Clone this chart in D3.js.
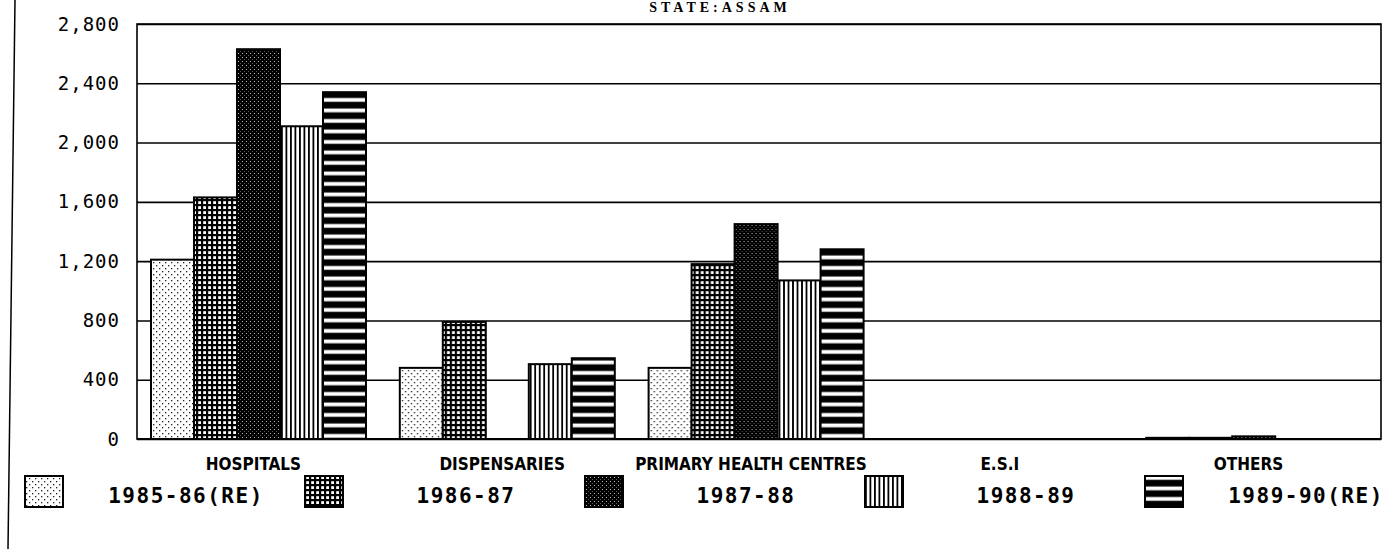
<!DOCTYPE html>
<html>
<head>
<meta charset="utf-8">
<script src="https://cdn.jsdelivr.net/npm/d3@7"></script>
<style>
  html, body { margin: 0; padding: 0; background: #fff; }
  svg { display: block; }
</style>
</head>
<body>
<svg id="chart" width="1387" height="549"></svg>
<script>
// Health expenditure by head, State: Assam
const title = "STATE:ASSAM";
const categories = ["HOSPITALS", "DISPENSARIES", "PRIMARY HEALTH CENTRES", "E.S.I", "OTHERS"];
const seriesNames = ["1985-86(RE)", "1986-87", "1987-88", "1988-89", "1989-90(RE)"];
const v1985 = [1210, 480, 480, 0, 8];
const v1986 = [1630, 790, 1180, 0, 8];
const v1987 = [2630, 0, 1450, 0, 18];
const v1988 = [2110, 505, 1070, 0, 0];
const v1989 = [2340, 545, 1280, 0, 0];
const yTicks = [0, 400, 800, 1200, 1600, 2000, 2400, 2800];

const seriesValues = [v1985, v1986, v1987, v1988, v1989];
const patternIds = ["pat-stipple", "pat-grid", "pat-dark", "pat-vert", "pat-horiz"];

const svg = d3.select("#chart");
const W = 1387, H = 549;
const m = { t: 24, r: 6, b: 110, l: 137 };
const plotW = W - m.l - m.r, plotH = H - m.t - m.b;

// ---- fill patterns (scanned print look) ----
const defs = svg.append("defs");
function pattern(id, w, h) {
  return defs.append("pattern").attr("id", id)
    .attr("patternUnits", "userSpaceOnUse").attr("width", w).attr("height", h);
}
let p = pattern("pat-stipple", 6, 6);
p.append("rect").attr("width", 6).attr("height", 6).attr("fill", "#fff");
p.append("rect").attr("x", 1).attr("y", 1).attr("width", 1.3).attr("height", 1.3).attr("fill", "#222");
p.append("rect").attr("x", 4).attr("y", 4).attr("width", 1.3).attr("height", 1.3).attr("fill", "#222");

p = pattern("pat-grid", 5, 5);
p.append("rect").attr("width", 5).attr("height", 5).attr("fill", "#000");
p.append("rect").attr("x", 1.2).attr("y", 1.2).attr("width", 2.8).attr("height", 2.8).attr("fill", "#fff");

p = pattern("pat-dark", 4, 4);
p.append("rect").attr("width", 4).attr("height", 4).attr("fill", "#000");
p.append("rect").attr("x", 1).attr("y", 1).attr("width", 1).attr("height", 1).attr("fill", "#bbb");
p.append("rect").attr("x", 3).attr("y", 3).attr("width", 0.8).attr("height", 0.8).attr("fill", "#888");

p = pattern("pat-vert", 4.5, 10);
p.append("rect").attr("width", 4.5).attr("height", 10).attr("fill", "#fff");
p.append("rect").attr("width", 1.8).attr("height", 10).attr("fill", "#000");

p = pattern("pat-horiz", 10, 10.5);
p.append("rect").attr("width", 10).attr("height", 10.5).attr("fill", "#000");
p.append("rect").attr("y", 3.5).attr("width", 10).attr("height", 3.8).attr("fill", "#fff");

// ---- scales ----
const x0 = d3.scaleBand().domain(categories).range([m.l, m.l + plotW]);
const x1 = d3.scaleBand().domain(seriesNames).range([14, 229]);
const y = d3.scaleLinear().domain([0, 2800]).range([m.t + plotH, m.t]);

// page edge from the scan
svg.append("line").attr("x1", 15).attr("y1", 0).attr("x2", 8).attr("y2", H)
  .attr("stroke", "#000").attr("stroke-width", 1.5);

// title
svg.append("text")
  .attr("x", 720).attr("y", 12)
  .attr("text-anchor", "middle")
  .style("font-family", "'Liberation Serif', 'DejaVu Serif', serif")
  .style("font-weight", 700).style("font-size", "14px")
  .style("letter-spacing", "4px")
  .text(title);

// ---- y axis + gridlines ----
svg.append("g").attr("transform", `translate(${m.l},0)`)
  .call(d3.axisLeft(y).tickValues(yTicks).tickFormat(d3.format(",")).tickSize(-plotW).tickPadding(17))
  .call(g => g.select(".domain").remove())
  .call(g => g.selectAll("line").attr("stroke", "#000").attr("stroke-width", 1.6))
  .selectAll("text")
  .attr("fill", "#000")
  .style("font-family", "'DejaVu Sans Mono', 'Liberation Mono', monospace")
  .style("font-size", "19px")
  .style("letter-spacing", "1px");

// frame
svg.append("rect")
  .attr("x", m.l).attr("y", m.t).attr("width", plotW).attr("height", plotH)
  .attr("fill", "none").attr("stroke", "#000").attr("stroke-width", 1.6);

// ---- bars ----
const groups = svg.selectAll("g.cat").data(categories).join("g")
  .attr("class", "cat")
  .attr("transform", d => `translate(${x0(d)},0)`);

groups.selectAll("rect").data((c, ci) => seriesNames.map((s, si) => ({
  s, si, v: seriesValues[si][ci]
})).filter(d => d.v > 0)).join("rect")
  .attr("x", d => x1(d.s))
  .attr("y", d => y(d.v))
  .attr("width", x1.bandwidth())
  .attr("height", d => y(0) - y(d.v))
  .attr("fill", d => `url(#${patternIds[d.si]})`)
  .attr("stroke", "#000").attr("stroke-width", 2);

// redraw baseline on top of bars
svg.append("line")
  .attr("x1", m.l).attr("x2", m.l + plotW)
  .attr("y1", y(0)).attr("y2", y(0))
  .attr("stroke", "#000").attr("stroke-width", 2);

// ---- category labels ----
svg.selectAll("text.cat").data(categories).join("text")
  .attr("class", "cat")
  .attr("x", d => x0(d) + x0.bandwidth() / 2 - 8)
  .attr("y", 470)
  .attr("text-anchor", "middle")
  .style("font-family", "'Liberation Sans Narrow', 'DejaVu Sans Condensed', 'DejaVu Sans', sans-serif")
  .style("font-stretch", "condensed")
  .style("font-weight", 700).style("font-size", "17px")
  .text(d => d);

// ---- legend ----
const lx = d3.scaleBand().domain(seriesNames).range([25, 25 + 280 * seriesNames.length]);
const leg = svg.selectAll("g.leg").data(seriesNames).join("g")
  .attr("class", "leg")
  .attr("transform", d => `translate(${lx(d)},0)`);

leg.append("rect")
  .attr("x", 0).attr("y", 476).attr("width", 38).attr("height", 31)
  .attr("fill", (d, i) => `url(#${patternIds[i]})`)
  .attr("stroke", "#000").attr("stroke-width", 2);

leg.append("text")
  .attr("x", 161).attr("y", 503)
  .attr("text-anchor", "middle")
  .attr("fill", "#000")
  .style("font-family", "'DejaVu Sans Mono', 'Liberation Mono', monospace")
  .style("font-weight", 700).style("font-size", "21px")
  .style("letter-spacing", "1.5px")
  .text(d => d);
</script>
</body>
</html>
